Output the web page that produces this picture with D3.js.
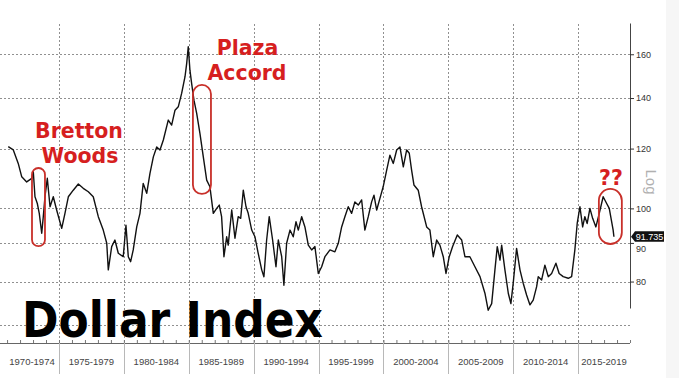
<!DOCTYPE html>
<html>
<head>
<meta charset="utf-8">
<script src="https://cdn.jsdelivr.net/npm/d3@7"></script>
<style>
  html, body { margin: 0; padding: 0; background: #fff; }
  svg { display: block; }
</style>
</head>
<body>
<div id="chart"></div>
<script>
// Dollar Index, decimal year + index level
const years = [
  1971.09, 1971.48, 1971.86, 1972.13, 1972.51, 1972.90, 1973.02, 1973.15, 1973.33, 1973.48,
  1973.67, 1973.79, 1973.92, 1974.10, 1974.31, 1974.56, 1974.82, 1975.21, 1975.46, 1975.72,
  1976.10, 1976.49, 1976.87, 1977.26, 1977.64, 1978.03, 1978.41, 1978.68, 1978.80, 1979.06,
  1979.31, 1979.57, 1979.95, 1980.16, 1980.34, 1980.52, 1980.72, 1980.99, 1981.24, 1981.49,
  1981.76, 1982.01, 1982.27, 1982.53, 1982.78, 1983.04, 1983.42, 1983.68, 1983.94, 1984.19,
  1984.45, 1984.71, 1984.84, 1984.96, 1985.09, 1985.22, 1985.40, 1985.61, 1985.86, 1986.12,
  1986.38, 1986.63, 1986.89, 1987.15, 1987.35, 1987.53, 1987.71, 1987.92, 1988.04, 1988.31,
  1988.56, 1988.81, 1989.00, 1989.20, 1989.41, 1989.58, 1989.85, 1990.10, 1990.35, 1990.62,
  1990.79, 1991.00, 1991.20, 1991.46, 1991.72, 1991.90, 1992.16, 1992.33, 1992.54, 1992.80,
  1993.05, 1993.26, 1993.44, 1993.70, 1993.95, 1994.21, 1994.47, 1994.72, 1994.98, 1995.24,
  1995.49, 1995.88, 1996.26, 1996.52, 1996.78, 1997.03, 1997.29, 1997.55, 1997.80, 1998.06,
  1998.32, 1998.57, 1998.83, 1999.09, 1999.27, 1999.48, 1999.73, 1999.98, 2000.25, 2000.50,
  2000.76, 2001.02, 2001.27, 2001.53, 2001.79, 2001.99, 2002.17, 2002.35, 2002.68, 2002.94,
  2003.33, 2003.58, 2003.84, 2004.10, 2004.35, 2004.61, 2004.82, 2005.07, 2005.33, 2005.69,
  2006.03, 2006.28, 2006.66, 2007.05, 2007.44, 2007.82, 2008.07, 2008.34, 2008.59, 2008.77,
  2008.98, 2009.11, 2009.36, 2009.62, 2009.82, 2010.00, 2010.26, 2010.52, 2010.77, 2011.03,
  2011.29, 2011.54, 2011.80, 2011.93, 2012.19, 2012.44, 2012.70, 2012.96, 2013.29, 2013.54,
  2013.85, 2014.24, 2014.50, 2014.75, 2014.93, 2015.14, 2015.35, 2015.52, 2015.70, 2015.91,
  2016.12, 2016.37, 2016.63, 2016.93, 2017.20, 2017.40, 2017.70, 2017.76
];
const values = [
  120.7, 119.5, 114.7, 110.1, 108.4, 109.6, 111.8, 103.6, 101.5, 98.5,
  92.7, 97.5, 103.6, 109.6, 100.5, 103.6, 99.5, 94.1, 98.5, 103.6,
  105.7, 107.7, 106.3, 105.2, 103.6, 97.5, 93.6, 89.9, 82.9, 89.0,
  90.8, 87.2, 86.3, 95.0, 86.3, 85.0, 88.1, 94.5, 98.5, 107.9,
  104.7, 111.3, 117.0, 120.6, 119.5, 123.2, 130.9, 128.9, 134.9, 136.3,
  142.0, 149.4, 155.6, 163.7, 152.4, 146.4, 139.1, 133.6, 125.7, 117.0,
  109.0, 106.8, 98.5, 100.0, 101.0, 97.5, 86.3, 91.7, 89.4, 99.5,
  91.3, 97.5, 97.0, 105.7, 100.5, 98.5, 93.6, 91.7, 87.2, 82.9,
  81.2, 90.8, 97.5, 90.8, 83.7, 90.8, 86.3, 79.1, 89.9, 93.6,
  91.7, 96.0, 93.6, 97.5, 94.5, 89.4, 88.1, 89.0, 82.0, 83.7,
  86.3, 88.1, 87.6, 89.9, 94.5, 97.5, 100.5, 98.5, 102.0, 101.0,
  102.6, 93.6, 97.5, 102.0, 104.1, 99.5, 103.1, 106.8, 112.4, 117.6,
  114.7, 119.5, 120.6, 113.5, 119.5, 118.3, 112.4, 107.4, 105.7, 100.5,
  94.5, 93.6, 86.3, 90.8, 89.4, 86.3, 82.0, 86.3, 89.0, 92.2,
  90.8, 86.3, 86.3, 83.7, 81.2, 77.2, 73.3, 74.8, 82.9, 89.0,
  85.4, 89.4, 82.9, 77.2, 74.8, 79.6, 88.5, 82.9, 79.6, 76.8,
  74.5, 75.6, 78.7, 81.2, 80.4, 84.1, 81.2, 82.0, 84.6, 82.0,
  81.2, 80.8, 81.2, 88.1, 95.5, 100.5, 94.5, 97.5, 95.5, 100.0,
  97.0, 94.5, 98.5, 103.6, 101.5, 100.0, 93.6, 91.7
];
const lastLabel = "91.735";
const lastValue = 91.735;

const periodStarts = [1970, 1975, 1980, 1985, 1990, 1995, 2000, 2005, 2010, 2015];
const periodLabels = ["1970-1974", "1975-1979", "1980-1984", "1985-1989", "1990-1994",
                      "1995-1999", "2000-2004", "2005-2009", "2010-2014", "2015-2019"];
const yTicks = [80, 90, 100, 120, 140, 160];
const yGrid = [70, 80, 90, 100, 120, 140, 160];

// highlighted episodes: [from year, to year, low, high]
const episodes = [
  [1972.92, 1973.92, 89.1, 113.1],
  [1985.32, 1986.71, 104.5, 145.7],
  [2016.60, 2018.37, 89.7, 106.1]
];

let width = 679, height = 378;
let axisX = 630;
let baseY = 343;
let red = "#d61f1f";

let svg = d3.select("#chart").append("svg")
    .attr("width", width)
    .attr("height", height)
    .style("font-family", "'Liberation Sans', Arial, sans-serif");

let x = d3.scaleLinear().domain([1970, 2020]).range([-5.9, 643]);
let y = d3.scaleLog().domain([73.8, 176]).range([308, 23]);

// faint strip at right edge
svg.append("rect").attr("x", 666).attr("y", 0).attr("width", 13).attr("height", height).attr("fill", "#f6f6f6");

// grid (dotted)
let grid = svg.append("g")
    .attr("stroke", "#909090")
    .attr("stroke-dasharray", "2,2")
    .attr("shape-rendering", "crispEdges");
grid.selectAll(".hg").data(yGrid).enter().append("line")
    .attr("x1", 0).attr("x2", axisX)
    .attr("y1", d => Math.round(y(d)) + 0.5).attr("y2", d => Math.round(y(d)) + 0.5);
grid.selectAll(".vg").data(periodStarts.slice(1)).enter().append("line")
    .attr("x1", d => Math.round(x(d)) + 0.5).attr("x2", d => Math.round(x(d)) + 0.5)
    .attr("y1", 24).attr("y2", baseY);

// title
svg.append("text")
    .attr("x", 22).attr("y", 337)
    .attr("textLength", 301).attr("lengthAdjust", "spacingAndGlyphs")
    .style("font-family", "'DejaVu Sans', Verdana, sans-serif")
    .style("font-weight", "bold")
    .style("font-size", "50px")
    .attr("fill", "#000")
    .text("Dollar Index");

// line
let data = years.map((d, i) => [d, values[i]]);
let line = d3.line().x(d => x(d[0])).y(d => y(d[1]));
svg.append("path")
    .datum(data)
    .attr("d", line)
    .attr("fill", "none")
    .attr("stroke", "#111")
    .attr("stroke-width", 1.4)
    .attr("stroke-linejoin", "round");

// episode outlines
svg.selectAll(".ep").data(episodes).enter().append("rect")
    .attr("x", d => x(d[0]))
    .attr("y", d => y(d[3]))
    .attr("width", d => x(d[1]) - x(d[0]))
    .attr("height", d => y(d[2]) - y(d[3]))
    .attr("rx", d => (x(d[1]) - x(d[0])) / 2)
    .attr("fill", "none")
    .attr("stroke", "#c8302a")
    .attr("stroke-width", 1.8);

// annotations
let notes = [
  { t: "Bretton", x: 79, y: 137.5 },
  { t: "Woods", x: 80, y: 163 },
  { t: "Plaza", x: 247.5, y: 55 },
  { t: "Accord", x: 247, y: 80 },
  { t: "??", x: 611, y: 185 }
];
svg.selectAll(".note").data(notes).enter().append("text")
    .attr("x", d => d.x).attr("y", d => d.y)
    .attr("text-anchor", "middle")
    .style("font-family", "'DejaVu Sans', Verdana, sans-serif")
    .style("font-weight", "bold")
    .style("font-size", "20.5px")
    .attr("fill", red)
    .text(d => d.t);

// right axis
let yAxis = svg.append("g")
    .attr("transform", "translate(" + axisX + ",0)")
    .call(d3.axisRight(y).tickValues(yTicks).tickSize(4).tickPadding(2).tickFormat(d3.format("d")).tickSizeOuter(0));
yAxis.select(".domain").attr("stroke", "#444");
yAxis.selectAll(".tick line").attr("stroke", "#333");
yAxis.selectAll("text").attr("fill", "#333").style("font-size", "9px")
    .style("font-family", "'Liberation Sans', Arial, sans-serif");
// the 90 label sits just under the last-value badge
yAxis.selectAll("text").filter(d => d === 90).attr("dy", "0.95em");

svg.append("text")
    .attr("transform", "translate(646,182) rotate(90)")
    .attr("text-anchor", "middle")
    .style("font-size", "15px")
    .attr("fill", "#b0b0b0")
    .text("Log");

// last value badge
let by = y(lastValue);
svg.append("path")
    .attr("d", "M" + (axisX + 1) + "," + by + " l4,-5.5 h29 v10.5 h-29 z")
    .attr("fill", "#111");
svg.append("text")
    .attr("x", axisX + 19.5).attr("y", by + 3)
    .attr("text-anchor", "middle")
    .style("font-size", "9px")
    .attr("fill", "#fff")
    .text(lastLabel);

// bottom axis
svg.append("line")
    .attr("x1", 0).attr("x2", axisX)
    .attr("y1", baseY + 0.5).attr("y2", baseY + 0.5)
    .attr("stroke", "#666");
let xAxis = svg.append("g")
    .attr("transform", "translate(0," + baseY + ")")
    .call(d3.axisBottom(x).tickValues(d3.range(1970, 2020)).tickSize(-3).tickFormat(""));
xAxis.select(".domain").remove();
xAxis.selectAll(".tick line").attr("stroke", "#777");

svg.selectAll(".sep").data(periodStarts.slice(1)).enter().append("line")
    .attr("x1", d => Math.round(x(d)) + 0.5).attr("x2", d => Math.round(x(d)) + 0.5)
    .attr("y1", baseY).attr("y2", 374)
    .attr("stroke", "#b8b8b8");

svg.selectAll(".plab").data(periodStarts).enter().append("text")
    .attr("x", d => Math.min(604, Math.max(32, (x(d) + x(d + 5)) / 2)))
    .attr("y", 365)
    .attr("text-anchor", "middle")
    .style("font-size", "9.5px")
    .attr("fill", "#444")
    .text((d, i) => periodLabels[i]);
</script>
</body>
</html>
